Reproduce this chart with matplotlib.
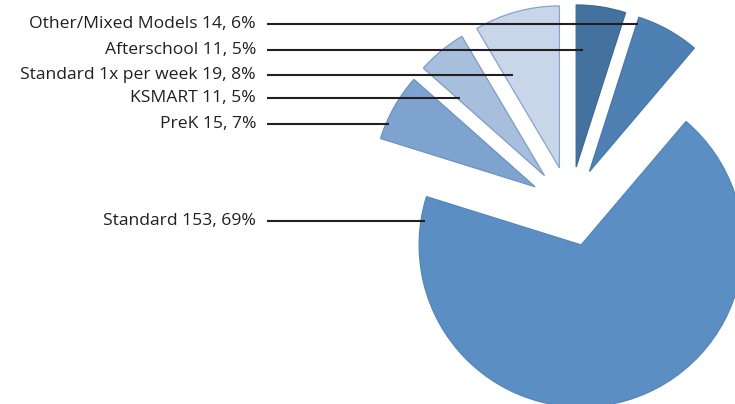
import matplotlib
matplotlib.use("Agg")
import matplotlib.pyplot as plt

# ---- data (clockwise from 12 o'clock) ----
categories = ["Afterschool", "Other/Mixed Models", "Standard", "PreK", "KSMART", "Standard 1x per week"]
counts = [11, 14, 153, 15, 11, 19]
percents = ["5%", "6%", "69%", "7%", "5%", "8%"]

# ---- style ----
colors = ["#44729f", "#4e80b4", "#5b8ec3", "#7fa3cf", "#a8bedd", "#c9d6e9"]
edges = ["#3d6892", "#4677a8", "#5486bb", "#6a93c4", "#7c9cc8", "#86a4cc"]

W, H = 735, 404
SCALE = 162.0          # pixels per pie radius
CX, CY = 570.0, 206.5  # pie centre in pixels (from top-left)

def px2data(px, py):
    return (px - CX) / SCALE, (CY - py) / SCALE

fig = plt.figure(figsize=(W / 100, H / 100), dpi=100)
ax = fig.add_axes([0, 0, 1, 1])
ax.pie(counts, startangle=90, counterclock=False, radius=1.0,
       explode=[0.247] * len(counts), colors=colors,
       wedgeprops=dict(linewidth=0.9))
for w, ec in zip(ax.patches, edges):
    w.set_edgecolor(ec)

ax.set_aspect("auto")
x0, y0 = px2data(0, H)
x1, y1 = px2data(W, 0)
ax.set_xlim(x0, x1)
ax.set_ylim(y0, y1)
ax.axis("off")

# ---- labels with leader lines (layout in pixels) ----
label_order = ["Other/Mixed Models", "Afterschool", "Standard 1x per week", "KSMART", "PreK", "Standard"]
label_y = [24, 50, 75, 98, 124, 221]
leader_end_x = [638, 583, 513, 460, 389, 425]
text_right_x = 256
line_start_x = 267

for name, ly, ex in zip(label_order, label_y, leader_end_x):
    i = categories.index(name)
    txt = f"{name} {counts[i]}, {percents[i]}"
    tx, ty = px2data(text_right_x, ly)
    ax.text(tx, ty, txt, ha="right", va="center", fontsize=12.6,
            family="Open Sans", color="#231f20")
    lx0, ly0 = px2data(line_start_x, ly)
    lx1, _ = px2data(ex, ly)
    ax.plot([lx0, lx1], [ly0, ly0], color="#231f20", lw=1.5, solid_capstyle="butt")

fig.savefig("out.png", dpi=100)
